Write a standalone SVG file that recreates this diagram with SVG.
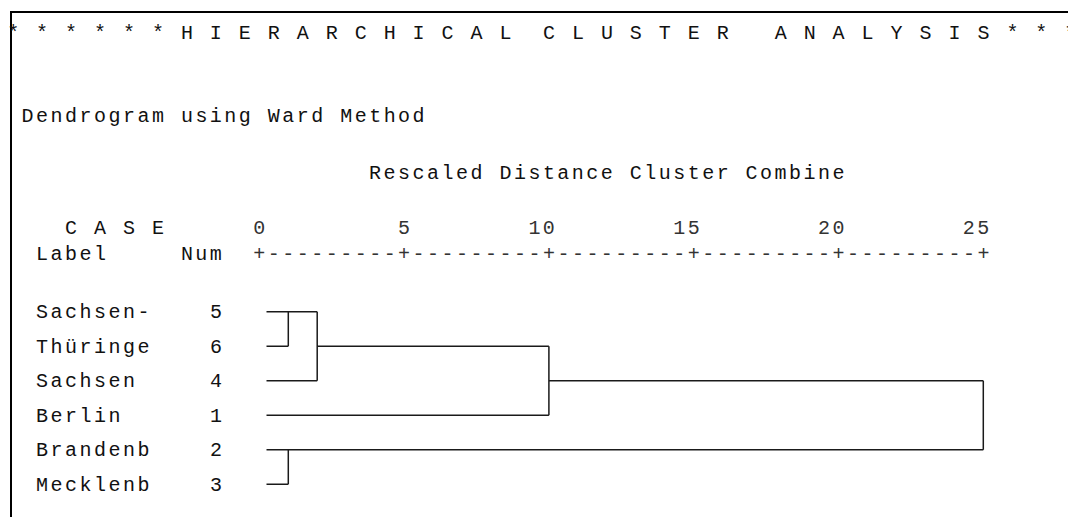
<svg xmlns="http://www.w3.org/2000/svg" width="1068" height="517" viewBox="0 0 1068 517">
<style>
text{font-family:"Liberation Mono","DejaVu Sans Mono",monospace;font-size:20px;fill:#111;letter-spacing:2.48px;white-space:pre}
.ax{fill:#333}
.ln{fill:none;stroke:#1a1a1a;stroke-width:1.5}
.frame{fill:none;stroke:#000;stroke-width:2}
</style>
<rect width="1068" height="517" fill="#fff"/>
<path class="frame" d="M11 518V12H1069"/>
<g id="title"><text x="7.14" y="39" xml:space="preserve">* * * * * * H I E R A R C H I C A L  C L U S T E R   A N A L Y S I S * * *</text></g>
<g id="subtitle"><text x="21.6" y="122">Dendrogram using Ward Method</text></g>
<g id="axis">
<text x="369.1" y="179">Rescaled Distance Cluster Combine</text>
<text x="65.1" y="234" xml:space="preserve">C A S E</text>
<text class="ax" x="253.3" y="234">0</text>
<text class="ax" x="398.1" y="234">5</text>
<text class="ax" x="528.4" y="234">10</text>
<text class="ax" x="673.2" y="234">15</text>
<text class="ax" x="818.0" y="234">20</text>
<text class="ax" x="962.8" y="234">25</text>
<text x="36.1" y="260">Label</text>
<text x="180.9" y="260">Num</text>
<text class="ax" x="253.3" y="260">+---------+---------+---------+---------+---------+</text>
</g>
<g id="leaf5"><text x="36.1" y="318">Sachsen-</text><text x="209.9" y="318">5</text></g>
<g id="leaf6"><text x="36.1" y="352.5">Thüringe</text><text x="209.9" y="352.5">6</text></g>
<g id="leaf4"><text x="36.1" y="387">Sachsen</text><text x="209.9" y="387">4</text></g>
<g id="leaf1"><text x="36.1" y="421.5">Berlin</text><text x="209.9" y="421.5">1</text></g>
<g id="leaf2"><text x="36.1" y="456">Brandenb</text><text x="209.9" y="456">2</text></g>
<g id="leaf3"><text x="36.1" y="490.5">Mecklenb</text><text x="209.9" y="490.5">3</text></g>
<g id="connectors">
<path class="ln" d="M266.5 311.7H317.2M288.3 311.7V346.2M266.5 346.2H288.3"/>
<path class="ln" d="M317.2 311.7V380.7M266.5 380.7H317.2M317.2 346.2H548.9"/>
<path class="ln" d="M548.9 346.2V415.2M266.5 415.2H548.9M548.9 380.7H983.3"/>
<path class="ln" d="M983.3 380.7V449.7M266.5 449.7H983.3"/>
<path class="ln" d="M288.3 449.7V484.2M266.5 484.2H288.3"/>
</g>
</svg>
